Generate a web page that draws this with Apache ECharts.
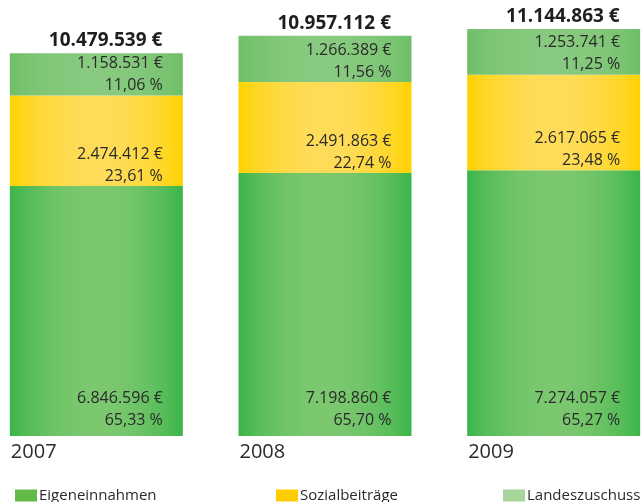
<!DOCTYPE html>
<html lang="de">
<head>
<meta charset="UTF-8">
<title>Einnahmen 2007-2009</title>
<script src="https://cdn.jsdelivr.net/npm/echarts@6/dist/echarts.min.js"></script>
<style>
  html, body { margin: 0; padding: 0; background: #fff; }
  #chart { width: 641px; height: 502px; }
</style>
</head>
<body>
<div id="chart"></div>
<script>
// Daten
var years = ['2007', '2008', '2009'];
var eigen = [6846596, 7198860, 7274057];
var sozial = [2474412, 2491863, 2617065];
var landes = [1158531, 1266389, 1253741];
var eigenPct = ['65,33', '65,70', '65,27'];
var sozialPct = ['23,61', '22,74', '23,48'];
var landesPct = ['11,06', '11,56', '11,25'];
var totals = [10479539, 10957112, 11144863];

var font = "'Open Sans', 'Noto Sans', sans-serif";
var textColor = '#2a2a2a';

function fmt(n) {
  return String(n).replace(/\B(?=(\d{3})+(?!\d))/g, '.');
}

// links/rechts dunkler, Mitte heller, weicher Verlauf
function shade(inner, outer) {
  var a = echarts.color.parse(outer), b = echarts.color.parse(inner);
  var stops = [];
  for (var i = 0; i <= 10; i++) {
    var t = i / 10;
    var k = Math.sin(Math.PI * t); // 0 am Rand, 1 in der Mitte
    k = Math.pow(k, 0.8);
    var c = [0, 1, 2].map(function (j) { return Math.round(a[j] + (b[j] - a[j]) * k); });
    stops.push({offset: t, color: 'rgb(' + c.join(',') + ')'});
  }
  return new echarts.graphic.LinearGradient(0, 0, 1, 0, stops);
}

function segLabel(pct, dy) {
  return {
    show: true,
    position: 'insideBottomRight',
    distance: 0,
    offset: [-20, dy],
    align: 'right',
    fontFamily: font,
    fontSize: 16,
    lineHeight: 22,
    color: textColor,
    formatter: function (p) {
      return fmt(p.value) + ' €\n' + pct[p.dataIndex] + ' %';
    }
  };
}

var chart = echarts.init(document.getElementById('chart'));

var legendText = {fontFamily: font, fontSize: 15, color: textColor, padding: [0, 0, 0, -3]};

var option = {
  animation: false,
  grid: {left: -18, right: -27, top: 16, bottom: 66, outerBoundsMode: 'none'},
  xAxis: {
    type: 'category',
    data: years,
    axisLine: {show: false},
    axisTick: {show: false},
    axisLabel: {
      margin: 6,
      interval: 0,
      formatter: function (v) { return '{y|' + v + '}'; },
      rich: {
        y: {width: 171, align: 'left', fontFamily: font, fontSize: 20, color: textColor}
      }
    }
  },
  yAxis: {
    type: 'value',
    min: 0,
    max: 11500000,
    show: false,
    splitLine: {show: false}
  },
  legend: [
    {left: 10, top: 483, itemWidth: 22, itemHeight: 12, textStyle: legendText,
     data: [{name: 'Eigeneinnahmen', icon: 'rect', itemStyle: {color: '#62bb46'}}]},
    {left: 271, top: 483, itemWidth: 22, itemHeight: 12, textStyle: legendText,
     data: [{name: 'Sozialbeiträge', icon: 'rect', itemStyle: {color: '#ffcc00'}}]},
    {left: 498, top: 483, itemWidth: 22, itemHeight: 12, textStyle: legendText,
     data: [{name: 'Landeszuschuss', icon: 'rect', itemStyle: {color: '#a8d59c'}}]}
  ],
  series: [
    {
      name: 'Eigeneinnahmen', type: 'bar', stack: 'x', barWidth: 173,
      data: eigen,
      itemStyle: {color: shade('#7cc86f', '#3bb54a')},
      label: segLabel(eigenPct, -5)
    },
    {
      name: 'Sozialbeiträge', type: 'bar', stack: 'x', barWidth: 173,
      data: sozial,
      itemStyle: {color: shade('#fedc5a', '#ffd200')},
      label: segLabel(sozialPct, 1)
    },
    {
      name: 'Landeszuschuss', type: 'bar', stack: 'x', barWidth: 173,
      data: landes,
      itemStyle: {color: shade('#88ca80', '#70bf68')},
      label: segLabel(landesPct, 1)
    },
    { // Summe oben drauf
      name: 'Summe', type: 'bar', stack: 'x', barWidth: 173,
      data: totals.map(function () { return 0; }),
      itemStyle: {color: 'transparent'},
      label: {
        show: true,
        position: 'top',
        distance: 3,
        align: 'right',
        offset: [66, 0],
        fontFamily: font,
        fontSize: 19,
        fontWeight: 'bold',
        color: '#1e1e1e',
        formatter: function (p) { return fmt(totals[p.dataIndex]) + ' €'; }
      }
    }
  ]
};

chart.setOption(option);
</script>
</body>
</html>
